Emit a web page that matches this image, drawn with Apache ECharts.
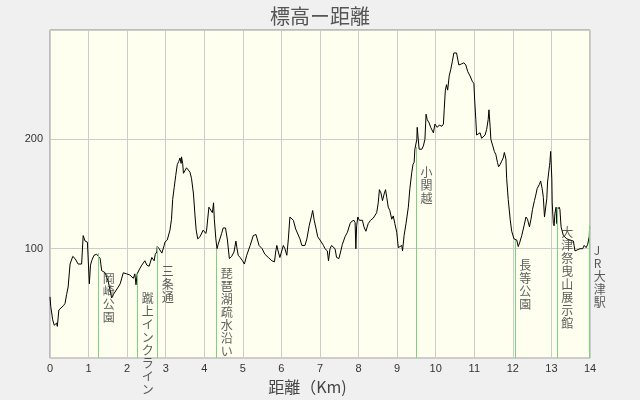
<!DOCTYPE html>
<html>
<head>
<meta charset="utf-8">
<script src="https://cdn.jsdelivr.net/npm/echarts@6/dist/echarts.min.js"></script>
<style>
    html, body { margin: 0; padding: 0; background: #f0f0f0; }
    #chart { width: 640px; height: 400px; }
</style>
</head>
<body>
<div id="chart"></div>
<script>
    // 距離 (km)
    const profileKm = [
        0.00, 0.02, 0.07, 0.11, 0.17, 0.19, 0.23, 0.26, 0.35, 0.39, 0.43, 0.47, 0.52, 0.59, 0.65, 0.73,
        0.82, 0.86, 0.91, 0.97, 0.99, 1.02, 1.05, 1.08, 1.14, 1.21, 1.25, 1.30, 1.34, 1.43, 1.51, 1.60,
        1.64, 1.69, 1.77, 1.82, 1.90, 1.99, 2.07, 2.16, 2.20, 2.23, 2.26, 2.33, 2.38, 2.42, 2.46, 2.51,
        2.57, 2.64, 2.70, 2.73, 2.77, 2.78, 2.83, 2.90, 2.96, 2.98, 3.04, 3.11, 3.15, 3.18, 3.22, 3.26,
        3.30, 3.34, 3.37, 3.40, 3.41, 3.44, 3.46, 3.50, 3.54, 3.59, 3.63, 3.67, 3.72, 3.76, 3.79, 3.83,
        3.89, 3.97, 4.04, 4.06, 4.12, 4.17, 4.21, 4.24, 4.26, 4.30, 4.33, 4.36, 4.45, 4.49, 4.55, 4.60,
        4.65, 4.71, 4.77, 4.82, 4.85, 4.88, 4.93, 4.99, 5.04, 5.10, 5.19, 5.27, 5.34, 5.38, 5.42, 5.47,
        5.50, 5.57, 5.66, 5.75, 5.82, 5.85, 5.88, 5.92, 5.96, 6.01, 6.05, 6.09, 6.14, 6.18, 6.22, 6.27,
        6.31, 6.37, 6.42, 6.48, 6.53, 6.61, 6.66, 6.72, 6.78, 6.81, 6.85, 6.90, 6.94, 7.00, 7.09, 7.13,
        7.19, 7.22, 7.26, 7.30, 7.35, 7.39, 7.43, 7.49, 7.54, 7.58, 7.65, 7.71, 7.78, 7.82, 7.88, 7.91,
        7.93, 7.95, 7.98, 8.02, 8.05, 8.10, 8.14, 8.19, 8.25, 8.31, 8.38, 8.43, 8.47, 8.51, 8.54, 8.58,
        8.62, 8.67, 8.70, 8.73, 8.77, 8.81, 8.86, 8.90, 8.94, 8.99, 9.03, 9.07, 9.12, 9.14, 9.18, 9.23,
        9.29, 9.33, 9.38, 9.41, 9.44, 9.46, 9.51, 9.52, 9.55, 9.57, 9.64, 9.68, 9.72, 9.75, 9.78, 9.83,
        9.87, 9.91, 9.94, 9.98, 10.04, 10.09, 10.16, 10.20, 10.22, 10.25, 10.28, 10.31, 10.35, 10.39, 10.43, 10.47,
        10.50, 10.54, 10.60, 10.63, 10.67, 10.73, 10.78, 10.83, 10.89, 10.95, 10.99, 11.01, 11.04, 11.06, 11.10, 11.15,
        11.19, 11.23, 11.28, 11.32, 11.36, 11.38, 11.41, 11.43, 11.48, 11.52, 11.56, 11.60, 11.63, 11.67, 11.71, 11.75,
        11.78, 11.82, 11.84, 11.88, 11.93, 11.97, 12.03, 12.10, 12.14, 12.18, 12.23, 12.29, 12.34, 12.38, 12.43, 12.47,
        12.51, 12.56, 12.60, 12.63, 12.69, 12.72, 12.76, 12.79, 12.82, 12.85, 12.88, 12.90, 12.95, 12.96, 12.98, 13.01,
        13.02, 13.05, 13.07, 13.09, 13.12, 13.14, 13.16, 13.20, 13.22, 13.25, 13.31, 13.40, 13.48, 13.57, 13.61, 13.65,
        13.74, 13.81, 13.85, 13.90, 13.94, 13.98, 13.99
    ]
    // 標高 (m)
    const profileElev = [
        56, 47, 35, 30, 32, 29, 44, 45, 48, 50, 58, 65, 86, 93, 91, 86,
        86, 112, 107, 106, 106, 68, 85, 89, 94, 95, 96, 91, 80, 78, 70, 55,
        58, 59, 65, 68, 78, 77, 76, 73, 77, 67, 77, 82, 85, 86, 89, 85,
        84, 92, 89, 95, 97, 102, 100, 96, 103, 106, 108, 117, 127, 145, 156, 167,
        177, 180, 183, 178, 184, 178, 169, 169, 174, 174, 170, 164, 150, 130, 117, 109,
        111, 117, 114, 117, 138, 139, 133, 142, 127, 109, 100, 104, 114, 119, 119, 108,
        91, 93, 97, 107, 100, 94, 92, 89, 86, 94, 103, 112, 113, 112, 103, 103,
        100, 95, 92, 89, 88, 97, 103, 97, 92, 91, 103, 100, 94, 109, 129, 129,
        126, 118, 117, 109, 103, 103, 109, 121, 130, 135, 126, 118, 111, 108, 103, 100,
        98, 89, 100, 103, 104, 100, 92, 91, 98, 104, 111, 115, 123, 125, 126, 124,
        100, 121, 129, 126, 127, 126, 120, 116, 123, 126, 128, 127, 133, 142, 154, 151,
        144, 151, 154, 147, 138, 135, 127, 130, 123, 115, 101, 101, 103, 98, 112, 123,
        138, 155, 170, 177, 179, 191, 200, 211, 210, 191, 191, 194, 200, 223, 218, 215,
        211, 212, 206, 214, 211, 213, 212, 214, 227, 245, 250, 245, 258, 264, 271, 279,
        280, 279, 268, 268, 269, 270, 268, 262, 258, 253, 251, 236, 218, 204, 203, 206,
        201, 200, 204, 209, 218, 227, 212, 200, 194, 189, 186, 179, 175, 177, 180, 183,
        188, 182, 164, 145, 127, 116, 109, 108, 102, 106, 112, 121, 129, 127, 120, 127,
        136, 144, 150, 155, 159, 162, 155, 147, 129, 129, 146, 161, 176, 179, 189, 164,
        142, 123, 121, 132, 138, 123, 136, 138, 136, 120, 112, 109, 108, 107, 98, 97,
        100, 100, 103, 101, 104, 111, 120
    ]

    const markerNames = ['岡崎公園', '蹴上インクライン', '三条通', '琵琶湖疏水沿い', '小関越', '長等公園', '大津祭曳山展示館', 'JR大津駅']
    const markerKm = [1.25, 2.26, 2.78, 4.31, 9.49, 12.05, 13.14, 13.98]
    const markerElev = [96, 77, 102, 100, 193, 108, 138, 121]

    const yTickLabels = [100, 200]

    const cjkFont = '"Noto Sans CJK JP", sans-serif'

    const chart = echarts.init(document.getElementById('chart'), null, { renderer: 'canvas' })

    const option = {
        backgroundColor: '#f0f0f0',
        animation: false,
        title: {
            text: '標高ー距離',
            left: 'center',
            top: 1,
            textStyle: {
                fontFamily: cjkFont,
                fontSize: 20,
                fontWeight: 'normal',
                color: '#555'
            }
        },
        grid: {
            left: 50,
            right: 50,
            top: 30,
            bottom: 40,
            show: true,
            backgroundColor: '#fffff0',
            borderColor: '#888',
            borderWidth: 1
        },
        xAxis: {
            type: 'value',
            min: 0,
            max: 14,
            interval: 1,
            name: '距離（Km)',
            nameLocation: 'middle',
            nameGap: 15,
            nameTextStyle: {
                fontFamily: cjkFont,
                fontSize: 16,
                color: '#444',
                padding: [0, 25, 0, 0]
            },
            axisLine: { show: false },
            axisTick: { show: false },
            axisLabel: {
                margin: 5,
                fontFamily: '"Liberation Sans", Arial, sans-serif',
                fontSize: 11,
                color: '#333'
            },
            splitLine: {
                show: true,
                lineStyle: { color: '#cccccc', width: 1 }
            }
        },
        yAxis: {
            type: 'value',
            min: 0,
            max: 300,
            interval: 100,
            axisLine: { show: false },
            axisTick: { show: false },
            axisLabel: {
                margin: 7,
                fontFamily: '"Liberation Sans", Arial, sans-serif',
                fontSize: 11,
                color: '#333',
                formatter: v => (yTickLabels.includes(v) ? String(v) : '')
            },
            splitLine: {
                show: true,
                lineStyle: { color: '#cccccc', width: 1 }
            }
        },
        series: [
            {
                name: '標高',
                type: 'line',
                data: profileKm.map((k, i) => [k, profileElev[i]]),
                showSymbol: false,
                symbol: 'none',
                lineStyle: { color: '#000', width: 1 },
                z: 3,
                markLine: {
                    silent: true,
                    symbol: ['none', 'none'],
                    label: { show: false },
                    lineStyle: { color: '#80d080', type: 'solid', width: 1 },
                    data: markerKm.map((k, i) => [
                        { coord: [k, 0] },
                        { coord: [k, markerElev[i]] }
                    ])
                }
            },
            {
                // 地点名（縦書き）
                name: '地点',
                type: 'scatter',
                data: markerKm.map((k, i) => [k, markerElev[i], markerNames[i]]),
                symbolSize: 1,
                itemStyle: { color: 'transparent' },
                silent: true,
                z: 4,
                label: {
                    show: true,
                    position: [5, 19],
                    align: 'left',
                    verticalAlign: 'top',
                    fontFamily: cjkFont,
                    fontSize: 12,
                    lineHeight: 13,
                    color: '#333',
                    formatter: p => p.data[2].split('').join('\n')
                }
            }
        ]
    }

    chart.setOption(option)
</script>
</body>
</html>
